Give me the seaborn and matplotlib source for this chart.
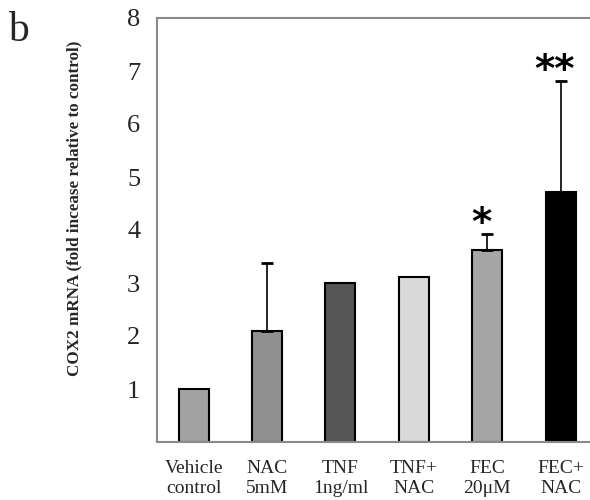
import numpy as np
import pandas as pd
import seaborn as sns
import matplotlib
matplotlib.use('Agg')
import matplotlib.pyplot as plt
from matplotlib.ticker import FixedLocator

# ---------------- data ----------------
groups = ['Vehicle\ncontrol', 'NAC\n5mM', 'TNF\n1ng/ml', 'TNF+\nNAC', 'FEC\n20\u03bcM', 'FEC+\nNAC']
fold_change = [1.0, 2.1, 3.0, 3.11, 3.62, 4.72]
err_upper = [0.0, 1.28, 0.0, 0.0, 0.30, 2.09]
stars = ['', '', '', '', '*', '**']
bar_colors = ['#a2a2a2', '#909090', '#555555', '#d9d9d9', '#a6a6a6', '#000000']

df = pd.DataFrame({'group': groups, 'fold': fold_change})

sns.set_style('white')
plt.rcParams['font.family'] = ['Liberation Serif', 'DejaVu Serif']

fig = plt.figure(figsize=(5.9, 5.0), dpi=100)
ax = fig.add_axes([0.266, 0.116, 0.734, 0.848])

sns.barplot(data=df, x='group', y='fold', hue='group', palette=bar_colors,
            width=0.41, edgecolor='black', linewidth=1.5, legend=False, ax=ax)

# upper error bars only
xs = np.arange(len(groups))
for x, v, e in zip(xs, fold_change, err_upper):
    if e > 0:
        ax.errorbar(x, v, yerr=[[0], [e]], fmt='none', ecolor='black',
                    elinewidth=1.2, capsize=4, capthick=2)

# significance marks
for x, v, e, s in zip(xs, fold_change, err_upper, stars):
    if s:
        ax.text(x - 0.08, v + e - 0.17, s, ha='center', va='bottom',
                fontsize=28, fontweight='bold', color='black', family='DejaVu Sans')

ax.set_ylim(0, 8)
ax.set_xlim(-0.5, 5.4)
ax.set_yticks(range(1, 9))
ax.tick_params(axis='y', labelsize=19, length=3, width=0.8, color='#888888',
               direction='out', pad=9)
ax.tick_params(axis='x', which='major', labelsize=14, length=0, pad=13)
ax.xaxis.set_minor_locator(FixedLocator(np.arange(0.5, 5.5, 1.0)))
ax.tick_params(axis='x', which='minor', length=6, width=0.8, color='#888888',
               direction='inout')
for lab in ax.get_xticklabels():
    lab.set_linespacing(1.2)

ax.set_xlabel('')
ax.set_ylabel('COX2 mRNA (fold incease relative to control)', fontsize=12.3,
              fontweight='bold')
ax.yaxis.set_label_coords(-0.172, 0.55)

for side in ['left', 'bottom', 'top']:
    ax.spines[side].set_color('#8a8a8a')
    ax.spines[side].set_linewidth(1.5)
ax.spines['right'].set_visible(False)

fig.text(0.013, 0.918, 'b', fontsize=30)

fig.savefig('out.png', dpi=100)
